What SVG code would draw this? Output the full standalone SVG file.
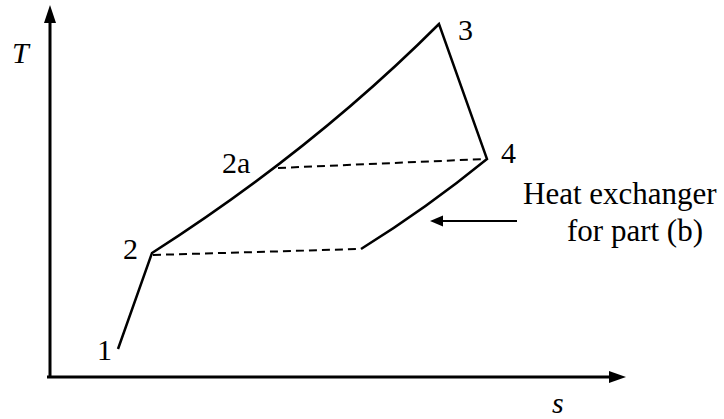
<svg xmlns="http://www.w3.org/2000/svg" width="724" height="419" viewBox="0 0 724 419">
<style>
.ax{stroke:#000;stroke-width:3;fill:none}
.cv{stroke:#000;stroke-width:2.5;fill:none;stroke-linejoin:miter}
.ds{stroke:#000;stroke-width:2;fill:none;stroke-dasharray:8 5}
text{font-family:'Liberation Serif','Times New Roman',serif;font-size:30px;fill:#000}
.it{font-style:italic}
.big{font-size:31px}
</style>
<rect width="724" height="419" fill="#fff"/>
<g id="axes">
<line class="ax" x1="50" y1="378" x2="50" y2="20"/>
<polygon points="50,5 44,23 56,23" fill="#000"/>
<line class="ax" x1="47" y1="377" x2="612" y2="377"/>
<polygon points="626,377 609,371 609,383" fill="#000"/>
<text class="it" x="12" y="63">T</text>
<text class="it" x="552" y="413">s</text>
</g>
<g id="connectors">
<path class="cv" d="M118,349 L152,253 Q313,150 439,24 L487,159 Q427,208 361,249"/>
<line class="ds" x1="153" y1="255" x2="360" y2="249"/>
<line class="ds" x1="278" y1="168" x2="485" y2="159"/>
<line stroke="#000" stroke-width="2" x1="517" y1="221" x2="440" y2="221"/>
<polygon points="430,221 443,215.5 443,226.5" fill="#000"/>
</g>
<g id="n1"><text x="97" y="360">1</text></g>
<g id="n2"><text x="123" y="259">2</text></g>
<g id="n2a"><text x="222" y="173">2a</text></g>
<g id="n3"><text x="458" y="40">3</text></g>
<g id="n4"><text x="501" y="163">4</text></g>
<g id="label"><text class="big" x="523" y="204">Heat exchanger</text><text class="big" x="567" y="241">for part (b)</text></g>
</svg>
